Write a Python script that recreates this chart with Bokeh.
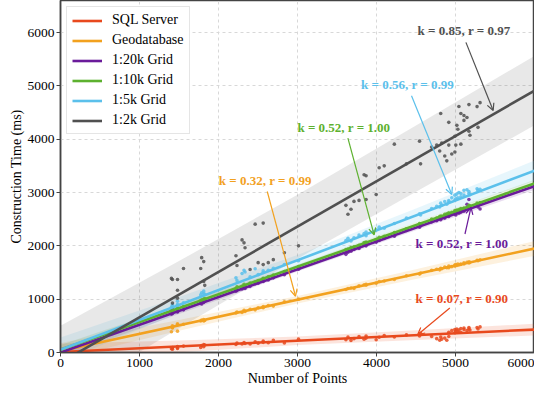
import numpy as np
from bokeh.plotting import figure
from bokeh.models import Arrow, OpenHead, Label, Legend, LegendItem, FixedTicker, Range1d
from bokeh.embed import file_html
from bokeh.resources import INLINE

# ---------------- data ----------------
series_names = ["SQL Server", "Geodatabase", "1:20k Grid", "1:10k Grid", "1:5k Grid", "1:2k Grid"]
series_colors = ["#E8491D", "#F2A11F", "#6A1B9A", "#5DB12F", "#5BC0EB", "#505050"]

x_points = [1404, 1417, 1417, 1417, 1481, 1481, 1481, 1557, 1775, 1787, 1813, 1813, 1826,
            2221, 2234, 2298, 2323, 2336, 2400, 2464, 2502, 2566, 2566, 2630, 2694, 2834, 3013,
            3613, 3639, 3677, 3715, 3779, 3843, 3868, 3868, 3996, 4034, 4098, 4226, 4379,
            4545, 4558, 4698, 4762, 4800, 4813, 4826, 4864, 4890, 4915, 4915, 4953, 4992, 4992,
            5004, 5017, 5030, 5043, 5068, 5068, 5107, 5107, 5145, 5170, 5170, 5183, 5273, 5285, 5311]

y_sql = [70, 85, 60, 95, 75, 110, 90, 120, 95, 130, 150, 110, 140,
         150, 175, 160, 185, 170, 160, 200, 175, 215, 190, 185, 230, 180, 250,
         240, 290, 225, 260, 300, 250, 270, 310, 240, 285, 320, 290, 330,
         310, 360, 300, 260, 230, 290, 250, 270, 230, 300, 380, 410, 370, 430,
         400, 440, 390, 420, 450, 380, 430, 460, 410, 470, 440, 420, 470, 440, 480]

y_geo = [390, 470, 500, 460, 400, 540, 520, 530, 590, 610, 620, 590, 600,
         740, 760, 750, 790, 770, 810, 800, 840, 860, 840, 880, 870, 950, 1000,
         1180, 1200, 1210, 1200, 1250, 1270, 1260, 1280, 1300, 1330, 1340, 1370, 1440,
         1470, 1490, 1540, 1560, 1550, 1580, 1570, 1600, 1590, 1620, 1590, 1610, 1640, 1620,
         1650, 1630, 1660, 1640, 1660, 1650, 1680, 1660, 1690, 1680, 1700, 1690, 1730, 1720, 1740]

y_20k = [720, 750, 730, 760, 770, 790, 760, 800, 930, 910, 950, 940, 960,
         1150, 1170, 1190, 1220, 1200, 1240, 1290, 1300, 1330, 1350, 1360, 1400, 1460, 1560,
         1840, 1880, 1900, 1930, 1950, 2010, 2000, 2030, 2070, 2100, 2140, 2180, 2290,
         2350, 2380, 2450, 2470, 2520, 2490, 2530, 2520, 2560, 2550, 2580, 2590, 2600, 2620,
         2580, 2620, 2640, 2610, 2660, 2630, 2700, 2650, 2780, 2870, 2700, 2720, 2760, 2730, 2690]

y_10k = [790, 800, 780, 810, 820, 840, 830, 860, 970, 990, 1000, 980, 1010,
         1200, 1230, 1240, 1280, 1250, 1300, 1320, 1350, 1390, 1380, 1420, 1450, 1520, 1610,
         1930, 1940, 1970, 1980, 2010, 2060, 2050, 2070, 2120, 2160, 2180, 2250, 2320,
         2420, 2410, 2500, 2520, 2550, 2560, 2550, 2590, 2600, 2590, 2620, 2630, 2640, 2660,
         2650, 2670, 2660, 2680, 2690, 2700, 2710, 2690, 2720, 2740, 2760, 2750, 2800, 2790, 2810]

y_5k = [850, 900, 830, 870, 880, 960, 900, 930, 1080, 1120, 1150, 1100, 1090,
        1400, 1350, 1480, 1540, 1510, 1420, 1570, 1460, 1500, 1530, 1540, 1580, 1650, 1720,
        2100, 2140, 2090, 2150, 2200, 2230, 2190, 2260, 2300, 2350, 2330, 2420, 2520,
        2600, 2580, 2700, 2740, 2730, 2800, 2760, 2830, 2780, 2850, 2820, 2900, 2860, 2950,
        2880, 2970, 2900, 3000, 2920, 2980, 2950, 3040, 3050, 2980, 3020, 2960, 3070, 3040, 3060]

y_2k = [1389, 1370, 926, 815, 1370, 1167, 1019, 1574, 1574, 1778, 1704, 1333, 1259,
        1815, 1630, 2111, 2056, 1963, 1556, 2407, 1685, 2426, 1648, 1685, 1741, 1870, 2000,
        2759, 2593, 2685, 2833, 2852, 3333, 2870, 3315, 2963, 3463, 3500, 3907, 3537,
        3963, 3537, 3852, 3889, 3778, 4481, 3926, 3685, 3593, 3889, 4315, 3722, 3759, 4056,
        3889, 4259, 4185, 4611, 3907, 4481, 4352, 4444, 4407, 4148, 4648, 4074, 4611, 4222, 4685]

y_series = [y_sql, y_geo, y_20k, y_10k, y_5k, y_2k]

# fitted lines: value at x = 0 and x = 6000
fit_x = [0, 6000]
fit_start = [10, 30, 0, 50, 50, -190]
fit_end = [430, 1950, 3120, 3170, 3410, 4910]

# band half-widths at band_x
band_x = [0, 1500, 3000, 4500, 6000]
band_hw = [
    [160, 110, 80, 90, 110],
    [150, 100, 70, 90, 140],
    [90, 60, 40, 50, 70],
    [90, 60, 40, 50, 70],
    [230, 150, 100, 130, 190],
    [690, 630, 600, 620, 650],
]

# annotation texts (series index), label positions and arrows
ann_series = [5, 4, 3, 1, 2, 0]
ann_text = ["k = 0.85, r = 0.97", "k = 0.56, r = 0.99", "k = 0.52, r = 1.00",
            "k = 0.32, r = 0.99", "k = 0.52, r = 1.00", "k = 0.07, r = 0.90"]
ann_pos = [(5107, 6037), (4392, 5020), (3587, 4222), (2592, 3222), (5081, 2037), (5081, 1019)]
ann_arrow = [((5132, 5815), (5477, 4537)),
             ((4443, 4815), (4953, 2963)),
             ((3638, 4018), (3970, 2204)),
             ((2617, 3019), (2975, 1055)),
             ((5120, 2222), (5196, 2722)),
             ((4928, 833), (4520, 333))]

x_ticks = [0, 1000, 2000, 3000, 4000, 5000, 6000]
y_ticks = [0, 1000, 2000, 3000, 4000, 5000, 6000]

FONT = "'Liberation Serif', 'Times New Roman', serif"

# ---------------- figure ----------------
p = figure(width=534, height=388, output_backend="svg", toolbar_location=None,
           x_range=Range1d(0, 6000), y_range=Range1d(0, 6600),
           min_border_left=60, min_border_right=0, min_border_top=0, min_border_bottom=26)

p.outline_line_color = "#444444"
p.outline_line_width = 1.5
p.background_fill_color = "white"

for ax in (p.xaxis[0], p.yaxis[0]):
    ax.axis_line_color = "#444444"
    ax.axis_line_width = 1.5
    ax.major_tick_line_color = "#444444"
    ax.major_tick_in = 0
    ax.major_tick_out = 4
    ax.minor_tick_line_color = None
    ax.major_label_text_font = FONT
    ax.major_label_text_font_size = "13.5px"
    ax.major_label_text_color = "black"
    ax.axis_label_text_font = FONT
    ax.axis_label_text_font_size = "14px"
    ax.axis_label_text_font_style = "normal"
    ax.axis_label_text_color = "black"
    ax.major_label_standoff = 2
    ax.axis_label_standoff = 1

p.xaxis[0].ticker = FixedTicker(ticks=x_ticks)
p.yaxis[0].ticker = FixedTicker(ticks=y_ticks)
p.xaxis.axis_label = "Number of Points"
p.yaxis.axis_label = "Construction Time (ms)"

p.xgrid.ticker = FixedTicker(ticks=x_ticks)
p.ygrid.ticker = FixedTicker(ticks=y_ticks)
for g in (p.xgrid[0], p.ygrid[0]):
    g.grid_line_color = "#d8d8d8"
    g.grid_line_dash = "3 3"
    g.grid_line_width = 1

bx = np.array(band_x, dtype=float)

# bands
for i in range(len(series_names)):
    c = series_colors[i]
    center = np.interp(bx, fit_x, [fit_start[i], fit_end[i]])
    hw = np.array(band_hw[i], dtype=float)
    alpha = 0.13 if i == 5 else 0.15
    p.varea(x=bx, y1=center - hw, y2=center + hw, fill_color=c, fill_alpha=alpha)

# scatter
for i in range(len(series_names)):
    c = series_colors[i]
    p.scatter(x=x_points, y=y_series[i], size=3.6, color=c, alpha=0.85, line_width=0)

# lines
items = []
for i in range(len(series_names)):
    c = series_colors[i]
    r = p.line(x=fit_x, y=[fit_start[i], fit_end[i]], line_color=c, line_width=2.6)
    items.append(LegendItem(label=series_names[i], renderers=[r]))

legend = Legend(items=items, location="top_left", margin=6, padding=5, spacing=4,
                glyph_width=30, glyph_height=15, label_height=15, label_standoff=10,
                label_text_font=FONT, label_text_font_size="14px", label_text_color="black",
                border_line_color="#cccccc", border_line_width=1,
                background_fill_color="white", background_fill_alpha=1.0)
p.add_layout(legend, "center")

# annotations
for k in range(len(ann_text)):
    c = series_colors[ann_series[k]]
    (xs, ys), (xe, ye) = ann_arrow[k]
    p.add_layout(Arrow(end=OpenHead(size=7, line_color=c, line_width=1.2),
                       x_start=xs, y_start=ys, x_end=xe, y_end=ye,
                       line_color=c, line_width=1.2))
    lx, ly = ann_pos[k]
    p.add_layout(Label(x=lx, y=ly, text=ann_text[k], text_color=c, text_font=FONT,
                       text_font_style="bold", text_font_size="13px",
                       text_align="center", text_baseline="middle"))

open("out.html", "w").write(file_html(p, INLINE))
